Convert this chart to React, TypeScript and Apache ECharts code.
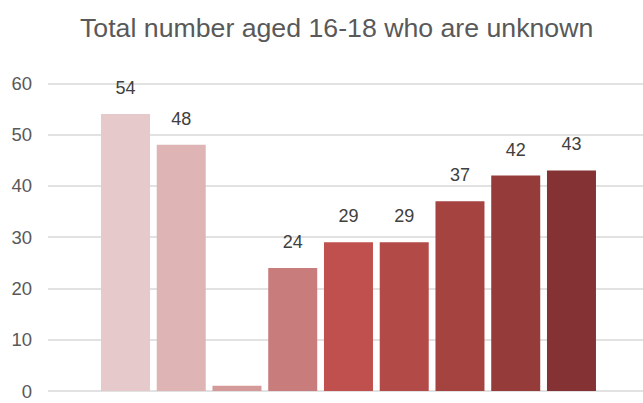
import React, { useEffect, useRef } from "react";
import * as echarts from "echarts";

const title = "Total number aged 16-18 who are unknown";
const categories = ["1", "2", "3", "4", "5", "6", "7", "8", "9"];
const values = [54, 48, 1, 24, 29, 29, 37, 42, 43];
const showLabel = [true, true, false, true, true, true, true, true, true];
const barColors = [
  "#e6c9ca",
  "#deb4b5",
  "#d49a9a",
  "#c87c7b",
  "#c0504d",
  "#b24a48",
  "#a54341",
  "#953b3a",
  "#843233",
];
const yTicks = { min: 0, max: 60, interval: 10 };
const FONT = "Liberation Sans, Arial, sans-serif";

export default function App() {
  const ref = useRef<HTMLDivElement>(null);
  useEffect(() => {
    if (!ref.current) return;
    const chart = echarts.init(ref.current, undefined, { renderer: "svg" });
    const gridTop = 83.3;
    const gridBottom = 12;
    chart.setOption({
      animation: false,
      backgroundColor: "#ffffff",
      title: {
        text: title,
        left: 75,
        top: 9,
        textStyle: {
          fontFamily: FONT,
          fontSize: 26.7,
          fontWeight: "normal",
          color: "#595959",
        },
      },
      grid: [
        { left: 48, right: 0, top: gridTop, bottom: gridBottom },
        { left: 97.6, width: 501.75, top: gridTop, bottom: gridBottom },
      ],
      xAxis: [
        { type: "category", gridIndex: 0, data: categories, show: false },
        { type: "category", gridIndex: 1, data: categories, show: false },
      ],
      yAxis: [
        {
          type: "value",
          gridIndex: 0,
          min: yTicks.min,
          max: yTicks.max,
          interval: yTicks.interval,
          axisLine: { show: false },
          axisTick: { show: false },
          axisLabel: {
            margin: 16,
            fontSize: 18.5,
            color: "#595959",
            fontFamily: FONT,
          },
          splitLine: { lineStyle: { color: "#d9d9d9", width: 1.5 } },
        },
        {
          type: "value",
          gridIndex: 1,
          min: yTicks.min,
          max: yTicks.max,
          interval: yTicks.interval,
          show: false,
          splitLine: { show: false },
        },
      ],
      series: [
        {
          type: "bar",
          xAxisIndex: 1,
          yAxisIndex: 1,
          barWidth: 49,
          data: values.map((v, i) => ({
            value: v,
            itemStyle: { color: barColors[i] },
            label: { show: showLabel[i] },
          })),
          label: {
            show: true,
            position: "top",
            distance: 17,
            fontSize: 18,
            color: "#404040",
            fontFamily: FONT,
          },
        },
      ],
    });
    return () => chart.dispose();
  }, []);
  return <div ref={ref} style={{ width: 643, height: 403, position: "fixed", left: 0, top: 0 }} />;
}
